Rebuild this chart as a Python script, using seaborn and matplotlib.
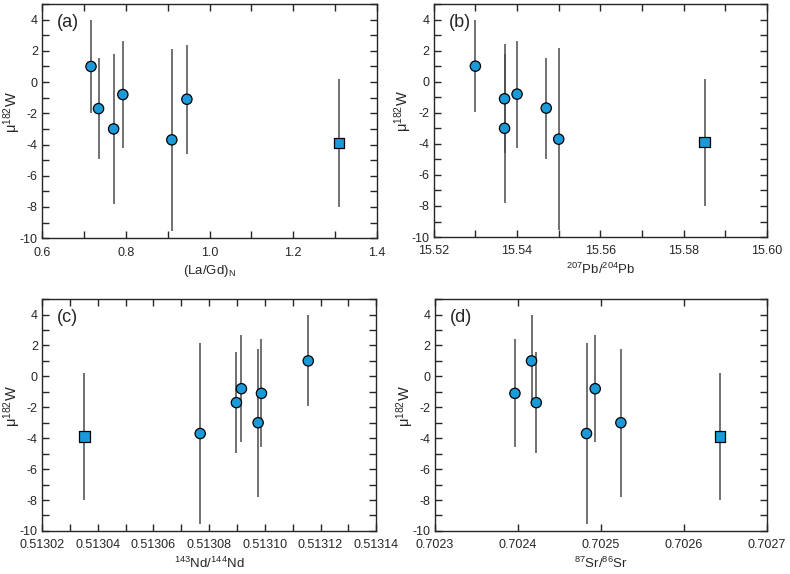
import numpy as np
import pandas as pd
import matplotlib
matplotlib.use("Agg")
import matplotlib.pyplot as plt
from matplotlib.ticker import MultipleLocator, FormatStrFormatter
import seaborn as sns

# mu182W values and 2SD uncertainties (six samples + one square sample)
mu182w = [1.0, -1.7, -3.0, -0.8, -3.7, -1.1, -3.9]
mu182w_err = [2.95, 3.25, 4.8, 3.45, 5.85, 3.5, 4.1]
group = ["circle"] * 6 + ["square"]

la_gd = [0.717, 0.735, 0.771, 0.793, 0.910, 0.946, 1.309]
pb207_204 = [15.530, 15.547, 15.537, 15.540, 15.550, 15.537, 15.585]
nd143_144 = [0.5131156, 0.5130898, 0.5130976, 0.5130916, 0.5130768, 0.5130988, 0.5130352]
sr87_86 = [0.7024163, 0.7024220, 0.7025239, 0.7024930, 0.7024825, 0.7023963, 0.7026430]

df = pd.DataFrame({"mu": mu182w, "err": mu182w_err, "group": group,
                   "lagd": la_gd, "pb": pb207_204, "nd": nd143_144, "sr": sr87_86})

sns.set_style("ticks")
plt.rcParams["font.family"] = ["Liberation Sans", "DejaVu Sans"]
plt.rcParams["axes.unicode_minus"] = False

fig = plt.figure(figsize=(7.9, 5.74), dpi=100)
axes = [
    fig.add_axes([0.0532, 0.585, 0.424, 0.408]),
    fig.add_axes([0.549, 0.587, 0.422, 0.406]),
    fig.add_axes([0.0532, 0.075, 0.423, 0.404]),
    fig.add_axes([0.5506, 0.075, 0.4204, 0.404]),
]

# per panel: column, label, xlim, major, minor, format, panel letter
panels = [
    ("lagd", r"(La/Gd)$_\mathregular{N}$", (0.6, 1.4), 0.2, 0.1, "%.1f", "(a)"),
    ("pb", r"$^\mathregular{207}$Pb/$^\mathregular{204}$Pb", (15.52, 15.60), 0.02, 0.01, "%.2f", "(b)"),
    ("nd", r"$^\mathregular{143}$Nd/$^\mathregular{144}$Nd", (0.51302, 0.51314), 0.00002, 0.00001, "%.5f", "(c)"),
    ("sr", r"$^\mathregular{87}$Sr/$^\mathregular{86}$Sr", (0.7023, 0.7027), 0.0001, None, "%.4f", "(d)"),
]

blue = "#1b9ad9"

for ax, (col, xlabel, xlim, major, minor, fmt, tag) in zip(axes, panels):
    ax.errorbar(df[col], df["mu"], yerr=df["err"], fmt="none",
                ecolor="#4a4a4a", elinewidth=1.1, capsize=0, zorder=1)
    sns.scatterplot(data=df, x=col, y="mu", style="group",
                    markers={"circle": "o", "square": "s"}, s=55,
                    color=blue, edgecolor="black", linewidth=0.9,
                    legend=False, ax=ax, zorder=3)
    ax.set_xlim(*xlim)
    ax.set_ylim(-10, 5)
    ax.xaxis.set_major_locator(MultipleLocator(major))
    if minor:
        ax.xaxis.set_minor_locator(MultipleLocator(minor))
    ax.xaxis.set_major_formatter(FormatStrFormatter(fmt))
    ax.yaxis.set_major_locator(MultipleLocator(2))
    ax.yaxis.set_minor_locator(MultipleLocator(1))
    ax.tick_params(which="both", direction="in", top=True, right=True,
                   length=5, width=1, labelsize=9)
    ax.tick_params(axis="x", pad=6)
    ax.tick_params(axis="y", pad=3)
    for sp in ax.spines.values():
        sp.set_linewidth(1)
    ax.set_xlabel(xlabel, fontsize=9.5, labelpad=3)
    ax.set_ylabel(r"$\mathregular{\mu^{182}}$W", fontsize=10.5, labelpad=1)
    ax.yaxis.set_label_coords(-0.058, 0.54)
    ax.text(0.045, 0.92, tag, transform=ax.transAxes, fontsize=13,
            ha="left", va="center")

fig.savefig("out.png", dpi=100)
